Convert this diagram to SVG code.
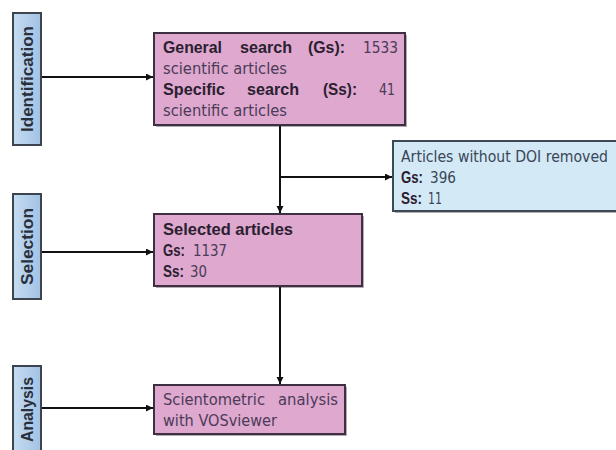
<svg xmlns="http://www.w3.org/2000/svg" width="616" height="450" viewBox="0 0 616 450">
<defs>
<linearGradient id="lblGrad" x1="0" y1="0" x2="1" y2="0">
<stop offset="0" stop-color="#c6dcf2"/>
<stop offset="1" stop-color="#a2c2e3"/>
</linearGradient>
<marker id="arr" markerUnits="userSpaceOnUse" markerWidth="8" markerHeight="8" refX="7" refY="3.5" orient="auto">
<path d="M0,0 L7,3.5 L0,7 z" fill="#111"/>
</marker>
</defs>
<style>
text{font-family:"DejaVu Sans","Noto Sans",sans-serif;font-size:15px;}
.b{font-family:"Liberation Sans",Arial,sans-serif;font-size:16px;font-weight:bold;fill:#2b2030;}
.r{fill:#4b3b57;}
.rb{fill:#3a4656;}
.pink{fill:#dea8cf;stroke:#3e3042;stroke-width:2;}
.blue{fill:#d3e9f6;stroke:#3c4a56;stroke-width:2;}
.lbl{fill:url(#lblGrad);stroke:#3c4450;stroke-width:2;}
.lt{font-family:"Liberation Sans",Arial,sans-serif;font-size:16px;font-weight:bold;fill:#28303e;text-anchor:middle;}
.shadow{fill:#6a5a6a;opacity:0.5;}
.conn{stroke:#111;stroke-width:2;fill:none;}
</style>
<rect width="616" height="450" fill="#ffffff"/>

<g id="identification">
<rect class="lbl" x="13" y="13" width="28" height="132"/>
<text class="lt" transform="translate(32.5,79) rotate(-90)" textLength="106" lengthAdjust="spacingAndGlyphs">Identification</text>
</g>
<g id="selection">
<rect class="lbl" x="13" y="194" width="28" height="105"/>
<text class="lt" transform="translate(32.5,246.5) rotate(-90)" textLength="77" lengthAdjust="spacingAndGlyphs">Selection</text>
</g>
<g id="analysis">
<rect class="lbl" x="13" y="366" width="28" height="100"/>
<text class="lt" transform="translate(32.5,409.5) rotate(-90)" textLength="65" lengthAdjust="spacingAndGlyphs">Analysis</text>
</g>

<g id="search">
<rect class="shadow" x="156" y="35" width="251" height="92"/>
<rect class="pink" x="154" y="33" width="251" height="92"/>
<text y="53"><tspan class="b" x="163" textLength="59" lengthAdjust="spacingAndGlyphs">General</tspan><tspan class="b" x="240" textLength="52" lengthAdjust="spacingAndGlyphs">search</tspan><tspan class="b" x="308" textLength="37" lengthAdjust="spacingAndGlyphs">(Gs):</tspan><tspan class="r" x="363" textLength="35" lengthAdjust="spacingAndGlyphs">1533</tspan></text>
<text class="r" x="163" y="74" textLength="124" lengthAdjust="spacingAndGlyphs">scientific articles</text>
<text y="95"><tspan class="b" x="163" textLength="62" lengthAdjust="spacingAndGlyphs">Specific</tspan><tspan class="b" x="247" textLength="52" lengthAdjust="spacingAndGlyphs">search</tspan><tspan class="b" x="323" textLength="34" lengthAdjust="spacingAndGlyphs">(Ss):</tspan><tspan class="r" x="379" textLength="16" lengthAdjust="spacingAndGlyphs">41</tspan></text>
<text class="r" x="163" y="116" textLength="124" lengthAdjust="spacingAndGlyphs">scientific articles</text>
</g>

<g id="removed">
<rect class="shadow" x="395" y="143" width="240" height="70"/>
<rect class="blue" x="393" y="141" width="240" height="70"/>
<text class="rb" x="401" y="162" textLength="207" lengthAdjust="spacingAndGlyphs">Articles without DOI removed</text>
<text y="183"><tspan class="b" x="401" textLength="22" lengthAdjust="spacingAndGlyphs">Gs:</tspan><tspan class="rb" x="430" textLength="26" lengthAdjust="spacingAndGlyphs">396</tspan></text>
<text y="204"><tspan class="b" x="401" textLength="21" lengthAdjust="spacingAndGlyphs">Ss:</tspan><tspan class="rb" x="428" textLength="14" lengthAdjust="spacingAndGlyphs">11</tspan></text>
</g>

<g id="selected">
<rect class="shadow" x="156" y="216" width="208" height="72"/>
<rect class="pink" x="154" y="214" width="208" height="72"/>
<text class="b" x="163" y="235" textLength="130" lengthAdjust="spacingAndGlyphs">Selected articles</text>
<text y="256"><tspan class="b" x="163" textLength="22" lengthAdjust="spacingAndGlyphs">Gs:</tspan><tspan class="r" x="193" textLength="34" lengthAdjust="spacingAndGlyphs">1137</tspan></text>
<text y="277"><tspan class="b" x="163" textLength="21" lengthAdjust="spacingAndGlyphs">Ss:</tspan><tspan class="r" x="190" textLength="17" lengthAdjust="spacingAndGlyphs">30</tspan></text>
</g>

<g id="scientometric">
<rect class="shadow" x="156" y="387" width="191" height="49"/>
<rect class="pink" x="154" y="385" width="191" height="49"/>
<text y="405"><tspan class="r" x="163" textLength="102" lengthAdjust="spacingAndGlyphs">Scientometric</tspan><tspan class="r" x="278" textLength="60" lengthAdjust="spacingAndGlyphs">analysis</tspan></text>
<text class="r" x="163" y="426" textLength="114" lengthAdjust="spacingAndGlyphs">with VOSviewer</text>
</g>

<g id="connectors">
<line class="conn" x1="42" y1="77" x2="153" y2="77" marker-end="url(#arr)"/>
<line class="conn" x1="42" y1="252" x2="153" y2="252" marker-end="url(#arr)"/>
<line class="conn" x1="42" y1="408" x2="153" y2="408" marker-end="url(#arr)"/>
<line class="conn" x1="280" y1="126" x2="280" y2="213" marker-end="url(#arr)"/>
<line class="conn" x1="280" y1="177" x2="392" y2="177" marker-end="url(#arr)"/>
<line class="conn" x1="280" y1="287" x2="280" y2="384" marker-end="url(#arr)"/>
</g>
</svg>
